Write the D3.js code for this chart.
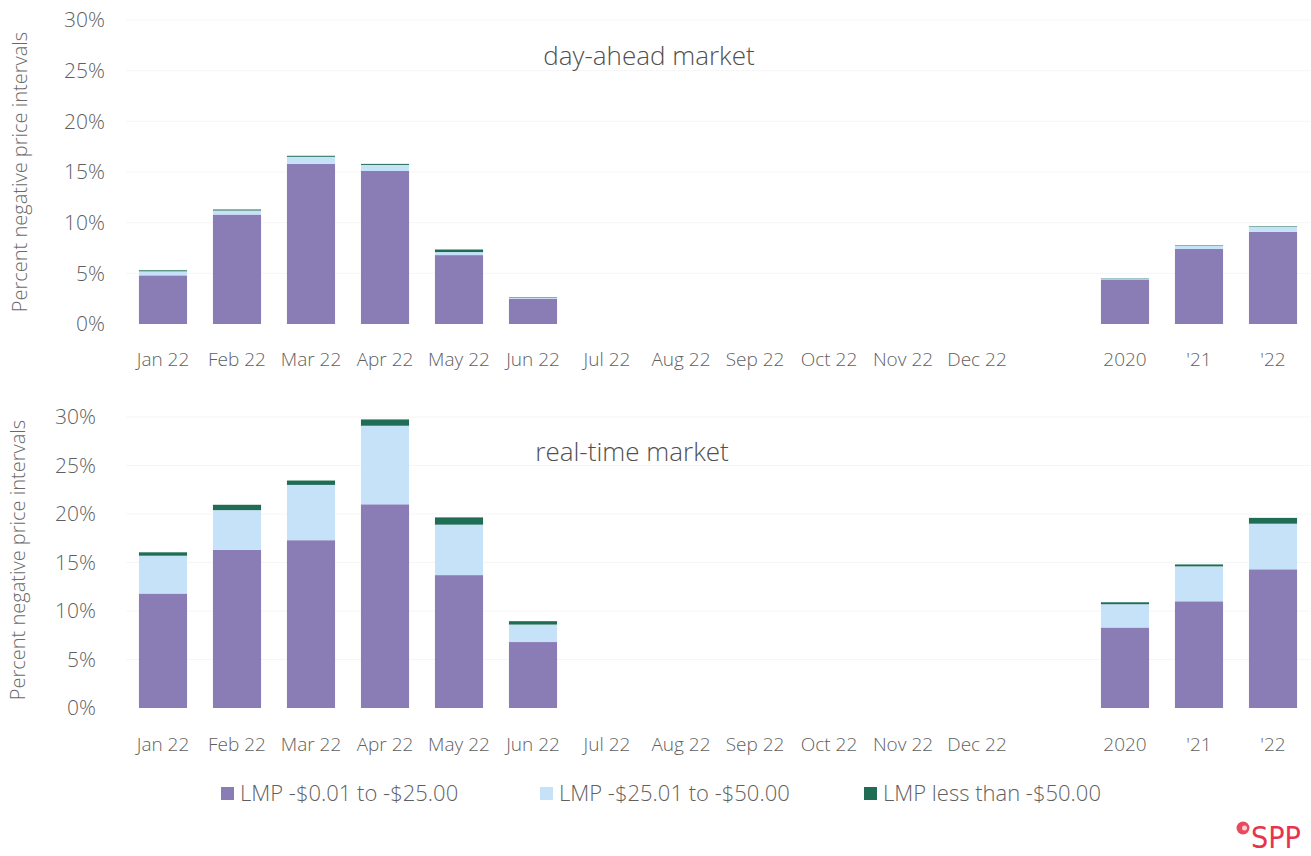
<!DOCTYPE html>
<html>
<head>
<meta charset="utf-8">
<script src="https://cdn.jsdelivr.net/npm/d3@7"></script>
<style>
  html, body { margin: 0; padding: 0; background: #fff; }
  svg { display: block; }
</style>
</head>
<body>
<svg id="chart" width="1311" height="856"></svg>
<script>
// ---------- data ----------
const months = ["Jan 22","Feb 22","Mar 22","Apr 22","May 22","Jun 22","Jul 22","Aug 22","Sep 22","Oct 22","Nov 22","Dec 22"];
const years = ["2020","'21","'22"];
const seriesNames = ["LMP -$0.01 to -$25.00","LMP -$25.01 to -$50.00","LMP less than -$50.00"];
const yTicks = [0,5,10,15,20,25,30];

// day-ahead market (percent), months Jan..Jun then annual 2020, '21, '22
const daLow  = [4.8, 10.8, 15.8, 15.1, 6.8, 2.5, null,null,null,null,null,null, 4.4, 7.4, 9.1];
const daMid  = [0.4,  0.4,  0.7,  0.6, 0.3, 0.1, null,null,null,null,null,null, 0.1, 0.3, 0.5];
const daHigh = [0.1,  0.1,  0.1,  0.1, 0.25,0.05,null,null,null,null,null,null, 0.03,0.05,0.05];

// real-time market (percent)
const rtLow  = [11.8, 16.3, 17.3, 21.0, 13.7, 6.8, null,null,null,null,null,null, 8.3, 11.0, 14.3];
const rtMid  = [3.9,  4.1,  5.7,  8.1,  5.2,  1.8, null,null,null,null,null,null, 2.4, 3.6, 4.7];
const rtHigh = [0.35, 0.55, 0.45, 0.65, 0.75, 0.35,null,null,null,null,null,null, 0.2, 0.2, 0.6];

// ---------- styles ----------
const colors = ["#8a7db5", "#c6e2f8", "#1f6d55"];
const textColor = "#5f5f5f";
const font = "'Open Sans', 'Noto Sans', sans-serif";

const svg = d3.select("#chart");
const GAP = "__gap__";
const cats = [...months, GAP, ...years];

const x = d3.scaleBand()
  .domain(cats)
  .range([126, 1310])
  .paddingInner(0.35)
  .paddingOuter(0.175);

function panel(cfg) {
  const y = d3.scaleLinear().domain([0, 30]).range([cfg.y0, cfg.y30]);
  const g = svg.append("g");

  // faint gridlines
  g.append("g").selectAll("line")
    .data(yTicks.slice(1))
    .join("line")
    .attr("x1", 126).attr("x2", 1310)
    .attr("y1", d => y(d)).attr("y2", d => y(d))
    .attr("stroke", "#f6f6f6").attr("stroke-width", 1);

  // y axis
  const ya = g.append("g")
    .attr("transform", `translate(${cfg.yAxisX},0)`)
    .call(d3.axisLeft(y).tickValues(yTicks).tickFormat(d => d + "%").tickSize(0).tickPadding(0));
  ya.select(".domain").remove();
  ya.selectAll("text")
    .attr("font-family", font).attr("font-size", 21).attr("font-weight", 300)
    .attr("fill", textColor);

  // x axis
  const xa = g.append("g")
    .attr("transform", `translate(0,${cfg.xAxisY})`)
    .call(d3.axisBottom(x).tickFormat(d => d === GAP ? "" : d).tickSize(0).tickPadding(0));
  xa.select(".domain").remove();
  xa.selectAll("text")
    .attr("font-family", font).attr("font-size", 19).attr("font-weight", 300)
    .attr("fill", textColor);

  // stacked bars
  const rows = cats.map((c, i) => {
    const idx = i < 12 ? i : i - 1; // skip gap slot
    if (c === GAP) return null;
    return { cat: c, low: cfg.low[idx], mid: cfg.mid[idx], high: cfg.high[idx] };
  }).filter(r => r && r.low != null);

  const stack = d3.stack().keys(["low", "mid", "high"]);
  const layers = stack(rows);
  g.append("g").selectAll("g")
    .data(layers)
    .join("g")
    .attr("fill", (d, i) => colors[i])
    .selectAll("rect")
    .data(d => d)
    .join("rect")
    .attr("x", d => x(d.data.cat))
    .attr("width", x.bandwidth())
    .attr("y", d => y(d[1]))
    .attr("height", d => Math.max(0, y(d[0]) - y(d[1])));

  // y axis title
  g.append("text")
    .attr("transform", `translate(${cfg.titleX},${cfg.titleY}) rotate(-90)`)
    .attr("text-anchor", "middle")
    .attr("font-family", font).attr("font-size", 20).attr("font-weight", 300)
    .attr("fill", "#6a6a6a")
    .text("Percent negative price intervals");

  // panel title
  g.append("text")
    .attr("x", cfg.headX).attr("y", cfg.headY)
    .attr("text-anchor", "middle")
    .attr("font-family", font).attr("font-size", 26).attr("font-weight", 300)
    .attr("fill", "#505050")
    .text(cfg.head);
}

panel({ low: daLow, mid: daMid, high: daHigh, y0: 324, y30: 20, yAxisX: 105, xAxisY: 352,
        titleX: 27, titleY: 172, headX: 649, headY: 65, head: "day-ahead market" });
panel({ low: rtLow, mid: rtMid, high: rtHigh, y0: 708, y30: 417, yAxisX: 96, xAxisY: 737,
        titleX: 25, titleY: 560, headX: 632, headY: 461, head: "real-time market" });

// legend
const legendX = [221, 540, 864];
const lg = svg.append("g");
seriesNames.forEach((name, i) => {
  lg.append("rect")
    .attr("x", legendX[i]).attr("y", 787)
    .attr("width", 13).attr("height", 13)
    .attr("fill", colors[i]);
  lg.append("text")
    .attr("x", legendX[i] + 19).attr("y", 801)
    .attr("font-family", font).attr("font-size", 22).attr("font-weight", 300)
    .attr("fill", textColor)
    .text(name);
});

// SPP logo
const logo = svg.append("g");
logo.append("circle").attr("cx", 1243).attr("cy", 828).attr("r", 6.5).attr("fill", "#e84a5f");
logo.append("circle").attr("cx", 1244.5).attr("cy", 828).attr("r", 2.5).attr("fill", "#fbd0d6");
logo.append("text")
  .attr("x", 1251).attr("y", 848)
  .attr("font-family", "'Liberation Sans Narrow', 'DejaVu Sans Condensed', sans-serif")
  .attr("font-size", 30)
  .attr("textLength", 50)
  .attr("lengthAdjust", "spacingAndGlyphs")
  .attr("fill", "#e8334f")
  .text("SPP");
</script>
</body>
</html>
